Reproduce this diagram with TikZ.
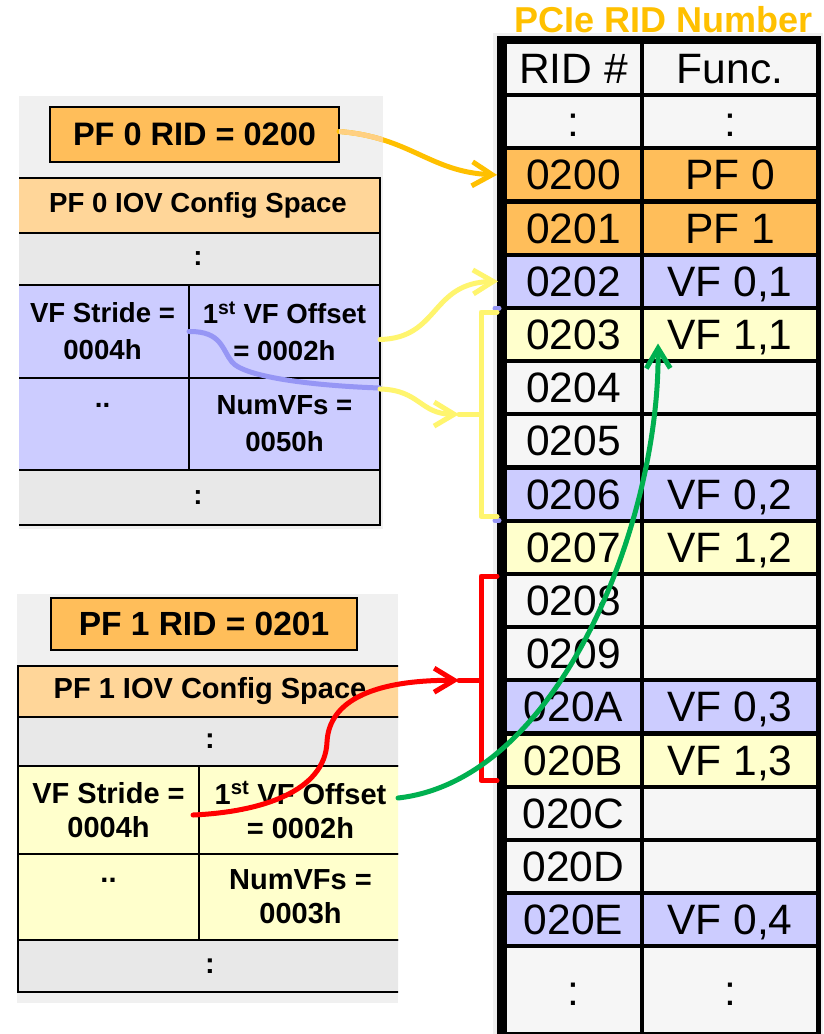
\documentclass[tikz,border=0pt]{standalone}
\usepackage{fontspec}
\setmainfont{Liberation Sans}
\usetikzlibrary{arrows.meta,calc}
\definecolor{pforange}{RGB}{255,190,90}
\definecolor{hdrorange}{RGB}{255,214,153}
\definecolor{vfblue}{RGB}{204,204,255}
\definecolor{vfyellow}{RGB}{255,255,204}
\definecolor{cellgray}{RGB}{232,232,232}
\definecolor{panelgray}{RGB}{240,240,240}
\definecolor{tablewhite}{RGB}{246,246,246}
\definecolor{arrorange}{RGB}{255,192,0}
\definecolor{arrlight}{RGB}{255,208,130}
\definecolor{arryellow}{RGB}{255,245,110}
\definecolor{arrblue}{RGB}{150,150,245}
\definecolor{arrgreen}{RGB}{0,176,80}
\definecolor{arrred}{RGB}{255,0,0}
\begin{document}
\begin{tikzpicture}[x=1pt,y=-1pt,
  cell/.style={rectangle, draw=black, line width=2.5pt, inner sep=0pt, outer sep=0pt, align=center},
  ftop/.style={font=\bfseries\fontsize{27.6}{37}\selectfont},
  fbot/.style={font=\bfseries\fontsize{29}{34}\selectfont},
  ridcell/.style={rectangle, inner sep=0pt, outer sep=0pt, font=\fontsize{42.5}{42}\selectfont, text height=30pt, text depth=0pt},
  arr/.style={line width=5pt, line cap=round, line join=round, -{Straight Barb[length=20pt,width=24pt]}},
  brk/.style={line width=5pt, line cap=round, line join=round}]
\useasboundingbox (0,0) rectangle (823,1034);
\fill[white] (0,0) rectangle (823,1034);

% ---------- top-left panel (PF 0) ----------
\fill[panelgray] (19,96) rectangle (383,529);
\node[cell, fill=pforange, minimum width=289pt, minimum height=55pt, font=\bfseries\fontsize{32.5}{34}\selectfont] (pfrid0) at (194.5,134.5) {PF 0 RID = 0200};
\begin{scope}
\clip (19,96) rectangle (383,529);
\node[cell, fill=hdrorange, minimum width=364pt, minimum height=55pt, ftop] (cfg0) at (198,205.5) {PF 0 IOV Config Space};
\node[cell, fill=cellgray, minimum width=364pt, minimum height=52pt, ftop] (dotA0) at (198,259) {:};
\node[cell, fill=vfblue, minimum width=173pt, minimum height=93pt, ftop] (str0) at (102.5,331.5) {VF Stride =\\0004h};
\node[cell, fill=vfblue, minimum width=191pt, minimum height=93pt, ftop] (off0) at (284.5,331.5) {1\textsuperscript{st} VF Offset\\= 0002h};
\node[cell, fill=vfblue, minimum width=173pt, minimum height=92pt, ftop] (dd0) at (102.5,424) {..\\\phantom{0}};
\node[cell, fill=vfblue, minimum width=191pt, minimum height=92pt, ftop] (num0) at (284.5,424) {NumVFs =\\0050h};
\node[cell, fill=cellgray, minimum width=364pt, minimum height=55pt, ftop] (dotB0) at (198,497.5) {:};
\end{scope}

% ---------- bottom-left panel (PF 1) ----------
\fill[panelgray] (17,594) rectangle (398,1003);
\node[cell, fill=pforange, minimum width=306pt, minimum height=52pt, font=\bfseries\fontsize{33.5}{35}\selectfont] (pfrid1) at (204,624) {PF 1 RID = 0201};
\begin{scope}
\clip (17,594) rectangle (398,1003);
\node[cell, fill=hdrorange, minimum width=384pt, minimum height=51pt, fbot] (cfg1) at (210,691.5) {PF 1 IOV Config Space};
\node[cell, fill=cellgray, minimum width=384pt, minimum height=49pt, fbot] (dotA1) at (210,741.5) {:};
\node[cell, fill=vfyellow, minimum width=181pt, minimum height=88pt, fbot] (str1) at (108.5,810) {VF Stride =\\0004h};
\node[cell, fill=vfyellow, minimum width=203pt, minimum height=88pt, fbot] (off1) at (300.5,810) {1\textsuperscript{st} VF Offset\\= 0002h};
\node[cell, fill=vfyellow, minimum width=181pt, minimum height=86pt, fbot] (dd1) at (108.5,897) {..\\\phantom{0}};
\node[cell, fill=vfyellow, minimum width=203pt, minimum height=86pt, fbot] (num1) at (300.5,897) {NumVFs =\\0003h};
\node[cell, fill=cellgray, minimum width=384pt, minimum height=52pt, fbot] (dotB1) at (210,966) {:};
\end{scope}

% ---------- RID table ----------
\node[font=\bfseries\fontsize{36}{36}\selectfont, text=arrorange, inner sep=0pt] (title) at (664,19.5) {PCIe RID Number};
\fill[panelgray] (493,33) rectangle (823,1034);
\fill[black] (497,36) rectangle (821,1034);
\foreach \i/\r/\f/\c in {
  0/RID \#/Func./tablewhite, 1/:/:/tablewhite,
  2/0200/PF 0/pforange, 3/0201/PF 1/pforange,
  {4/0202/VF 0,1/vfblue}, {5/0203/VF 1,1/vfyellow},
  6/0204//tablewhite, 7/0205//tablewhite,
  {8/0206/VF 0,2/vfblue}, {9/0207/VF 1,2/vfyellow},
  10/0208//tablewhite, 11/0209//tablewhite,
  {12/020A/VF 0,3/vfblue}, {13/020B/VF 1,3/vfyellow},
  14/020C//tablewhite, 15/020D//tablewhite,
  {16/020E/VF 0,4/vfblue}} {
  \node[ridcell, fill=\c, minimum width=133pt, minimum height=49pt] (rid\i) at (573.5,68.5+53.2*\i) {\r};
  \node[ridcell, fill=\c, minimum width=172pt, minimum height=49pt] (fn\i) at (730,68.5+53.2*\i) {\f};
}
\node[ridcell, fill=tablewhite, minimum width=133pt, minimum height=84pt] (rid17) at (573.5,990) {:};
\node[ridcell, fill=tablewhite, minimum width=172pt, minimum height=84pt] (fn17) at (730,990) {:};

% ---------- brackets ----------
\coordinate (yb) at ($(rid5.north west)!0.5!(rid8.south west)+(-26,0)$);
\coordinate (rb) at ($(rid10.north west)!0.5!(rid13.south west)+(-26,0)$);
\draw[brk, arrblue] ([xshift=-12pt,yshift=2pt]rid5.north west) -- ([xshift=-8pt,yshift=2pt]rid5.north west);
\draw[brk, arrblue] ([xshift=-12pt,yshift=-2pt]rid8.south west) -- ([xshift=-8pt,yshift=-2pt]rid8.south west);
\draw[brk, arryellow] ([xshift=-10pt,yshift=-2pt]rid5.north west) -- ++(-16,0) |- ([xshift=-10pt,yshift=2pt]rid8.south west);
\draw[brk, arryellow] (yb) -- ++(-22,0);
\draw[brk, arrred] ([xshift=-10pt]rid10.north west) -- ++(-16,0) |- ([xshift=-10pt,yshift=4pt]rid13.south west);
\draw[brk, arrred] (rb) -- ++(-22,0);

% ---------- connectors ----------
\draw[arr, arrorange] ([yshift=3pt]pfrid0.east) .. controls (410,137) and (430,172) .. ([xshift=-10pt]rid2.west);
\begin{scope}
\clip (19,96) rectangle (383,529);
\draw[line width=5pt, arrlight] ([yshift=3pt]pfrid0.east) .. controls (410,137) and (430,172) .. ([xshift=-10pt]rid2.west);
\end{scope}
\draw[line width=5pt, line cap=round, arrblue] (off0.west) .. controls (222,331) and (222,350) .. (232,362) .. controls (245,378) and (320,386) .. ([yshift=-10pt]off0.south east);
\draw[arr, arryellow] ([yshift=-8pt]off0.east) .. controls (440,338) and (430,283) .. ([xshift=-9pt]rid4.west);
\draw[arr, arryellow] ([yshift=-11pt]off0.south east) .. controls (420,390) and (420,414) .. ([xshift=-22pt]yb);
\draw[arr, arrred] ([xshift=-6pt,yshift=-5pt]str1.east) .. controls (260,812) and (325,792) .. (327,742) .. controls (329,700) and (375,680) .. ([xshift=-22pt]rb);
\draw[arr, arrgreen] ([xshift=-4pt,yshift=12pt]off1.east) .. controls (560,780) and (660,520) .. ([xshift=14pt,yshift=-9pt]fn5.west);
\end{tikzpicture}
\end{document}
